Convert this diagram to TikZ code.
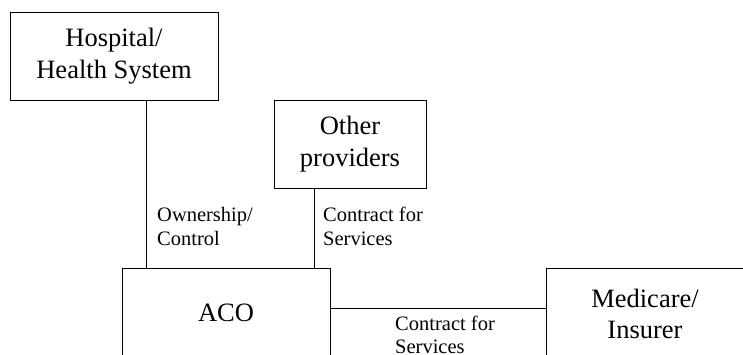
\documentclass[tikz,border=0pt]{standalone}
\usepackage{fontspec}
\setmainfont{Liberation Serif}
\usetikzlibrary{calc}
\def\boxfont{\fontsize{26.5}{31.5}\selectfont}
\def\lblfont{\fontsize{20.5}{23.5}\selectfont}
\tikzset{
  orgbox/.style = {draw, line width=1pt, align=center, font=\boxfont,
    inner sep=0pt},
  link/.style = {line width=1pt},
  lbl/.style = {anchor=base west, align=left, font=\lblfont, inner sep=0pt}
}

\begin{document}
\begin{tikzpicture}[x=1pt, y=-1pt]

  \useasboundingbox (0,0) rectangle (743,354);
  \clip (0,0) rectangle (743,354);

  % boxes
  \node [orgbox, minimum width=208pt, minimum height=88pt] (hosp) at (114,56)
    {Hospital/\\Health System};
  \node [orgbox, minimum width=152pt, minimum height=88pt] (other) at (350,144)
    {Other\\providers};
  \node [orgbox, minimum width=208pt, minimum height=90pt] (aco) at (226,313)
    {ACO};
  \node [orgbox, minimum width=198pt, minimum height=92pt] (insurer) at (645,314)
    {Medicare/\\Insurer};

  % links
  \draw [link] ([xshift=32pt]hosp.south) -- ([xshift=32pt]hosp.south |- aco.north);
  \draw [link] ([xshift=-36pt]other.south) -- ([xshift=-36pt]other.south |- aco.north);
  \draw [link] ([yshift=5pt]aco.east) -- ([yshift=5pt]aco.east -| insurer.west);

  % link labels (base = last line)
  \node [lbl] (own) at (157,245) {Ownership/\\Control};
  \node [lbl] (contract) at (323,245) {Contract for\\Services};
  \node [lbl] (contractb) at (395,353.5) {Contract for\\Services};

\end{tikzpicture}
\end{document}
